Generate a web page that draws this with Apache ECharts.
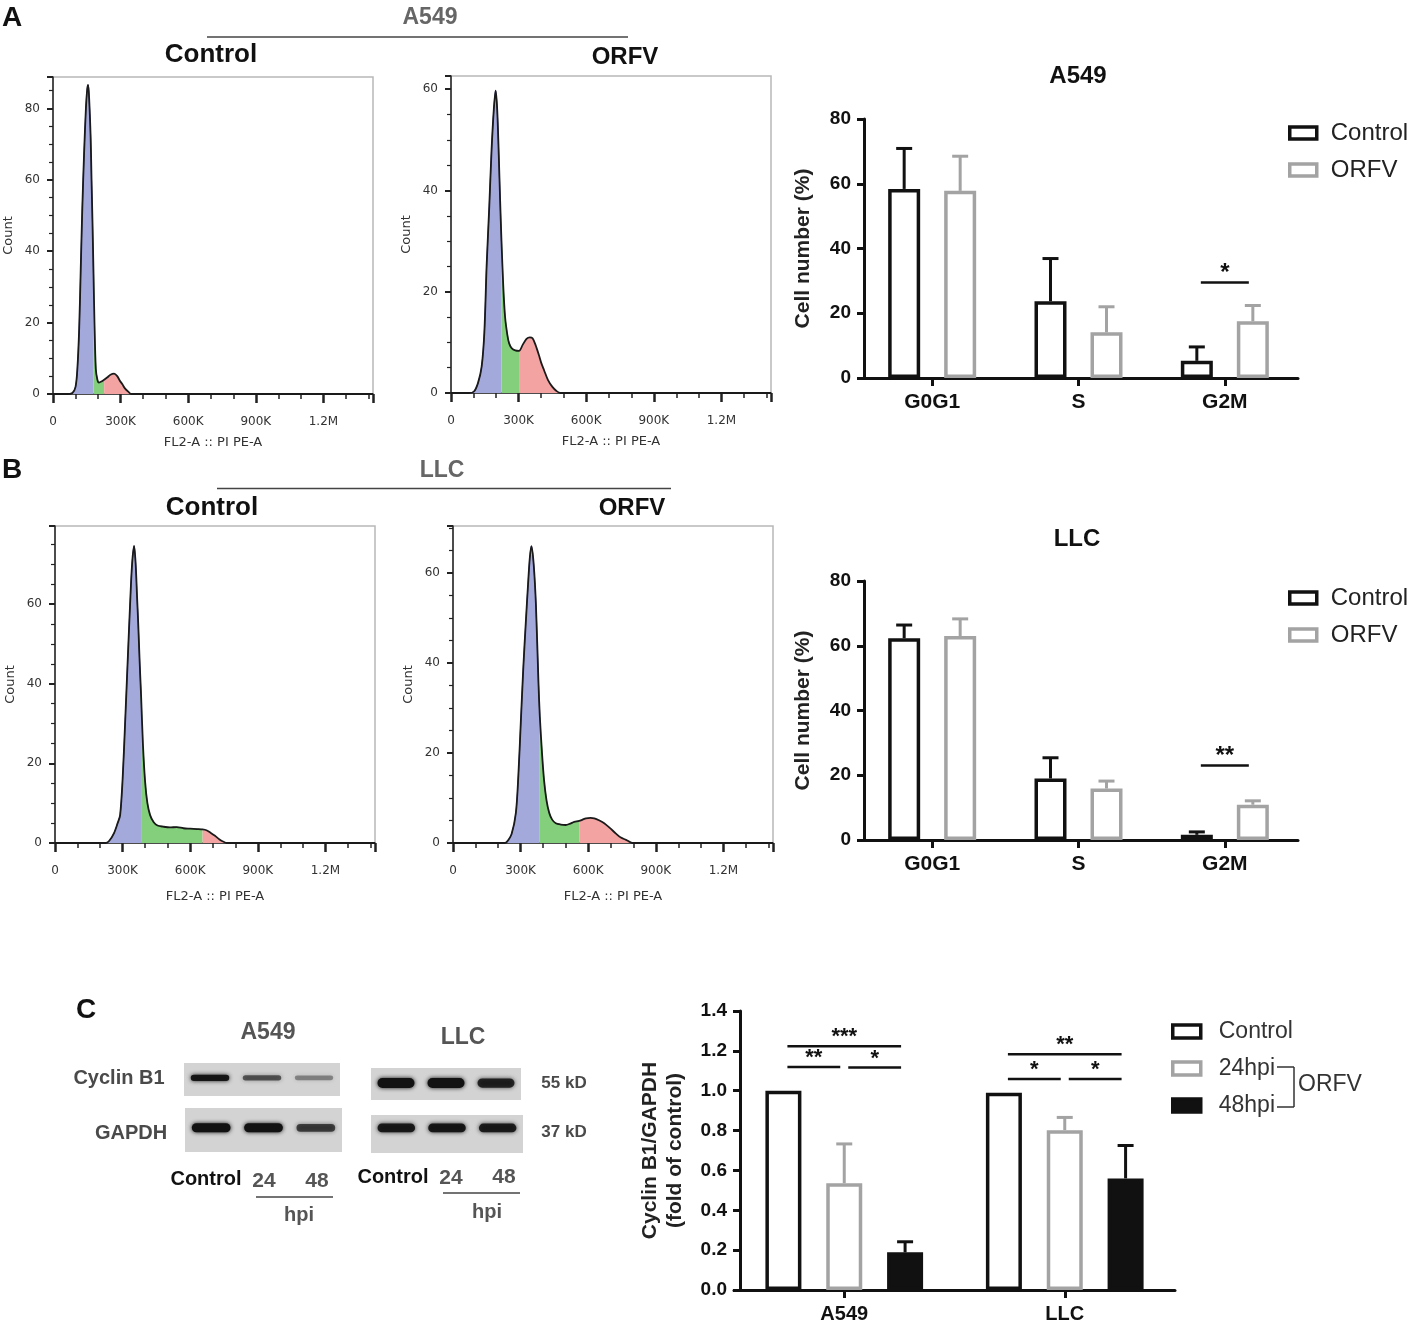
<!DOCTYPE html>
<html>
<head>
<meta charset="utf-8">
<title>ORFV cell cycle</title>
<script src="https://cdn.jsdelivr.net/npm/echarts@6/dist/echarts.min.js"></script>
<style>
  html, body { margin: 0; padding: 0; background: #fff; }
  #chart { width: 1408px; height: 1326px; }
</style>
</head>
<body>
<div id="chart"></div>
<script>
// ---------- data ----------
// flow cytometry histograms, x in K (FL2-A), y = count
var histA549Ctrl = [[0,0],[60,0],[86,0.3],[100,2],[108,6.9],[116,18],[123,34.8],[130,52],[138,67.5],[146,80],[152,85.5],[156,86.6],[161,82],[167,72],[171,60],[175,48.8],[180,33],[184,20],[190,7],[197,4],[204,3.2],[215,3.5],[227,4],[240,4.6],[255,5.4],[271,5.7],[285,5],[296,3.8],[308,2.7],[320,1.5],[335,0.6],[348,0],[1420,0]];
var histA549Orfv = [[0,0],[80,0],[102,0.3],[120,2],[136,5.2],[148,12],[158,25],[170,37],[180,48],[190,56],[198,59.7],[205,56],[212,47],[218,38],[224,30],[232,21],[240,15],[250,11.5],[258,9.8],[270,8.8],[285,8.4],[302,8.3],[318,9.5],[335,10.7],[350,11],[362,10.8],[375,9.5],[390,7.5],[400,6],[413,4.5],[430,2.6],[450,1.2],[468,0.4],[485,0],[1420,0]];
var histLlcCtrl = [[0,0],[225,0],[240,0.5],[262,2.5],[278,5],[289,7],[300,16],[311,30],[322,45],[333,59.7],[342,70],[351,74.6],[358,70],[364,62],[369,55.5],[376,45],[382,37],[390,25],[400,15.3],[410,10],[422,7],[438,5.2],[455,4.4],[480,4.1],[510,3.9],[540,4],[570,3.7],[600,3.6],[630,3.5],[655,3.4],[672,3.2],[690,2.6],[710,1.8],[730,0.9],[748,0.3],[762,0],[1420,0]];
var histLlcOrfv = [[0,0],[230,0],[240,0.3],[260,2],[279,6.7],[290,15],[301,27],[312,39],[323,49],[333,57.5],[341,63.5],[348,66],[358,62],[368,53],[379,36],[385,28.4],[395,20],[404,14],[415,9.5],[427,6.7],[440,5.2],[456,4.4],[478,4.1],[500,4],[520,4.3],[538,4.7],[560,4.9],[575,5.2],[590,5.5],[610,5.6],[627,5.5],[650,5],[671,4.4],[697,3.3],[723,2.1],[745,1.2],[768,0.7],[782,0.3],[795,0],[1420,0]];
// phase gates (K): end of G0/G1, end of S
var gatesA549Ctrl = [180, 227];
var gatesA549Orfv = [224, 302];
var gatesLlcCtrl = [382, 655];
var gatesLlcOrfv = [385, 560];
var histXTicks = ['0', '300K', '600K', '900K', '1.2M'];

// cell cycle distribution (%)
var phases = ['G0G1', 'S', 'G2M'];
var a549Ctrl = [58.4, 23.7, 5.3];
var a549CtrlErr = [12.5, 13.2, 4.3];
var a549Orfv = [57.8, 14.1, 17.5];
var a549OrfvErr = [10.7, 7.9, 4.9];
var llcCtrl = [62.3, 19.0, 1.6];
var llcCtrlErr = [4.1, 6.4, 0.9];
var llcOrfv = [63.0, 15.9, 10.9];
var llcOrfvErr = [5.3, 2.3, 1.2];
var sigA549 = [{cat: 2, from: 0, to: 1, y: 29.5, text: '*'}];
var sigLlc = [{cat: 2, from: 0, to: 1, y: 23.0, text: '**'}];

// Cyclin B1 / GAPDH (fold of control)
var cells = ['A549', 'LLC'];
var cycCtrl = [1.0, 0.99];
var cycCtrlErr = [0, 0];
var cyc24 = [0.536, 0.802];
var cyc24Err = [0.197, 0.064];
var cyc48 = [0.189, 0.56];
var cyc48Err = [0.053, 0.165];
var sigCyc = [
    {cat: 0, from: 0, to: 2, y: 1.223, text: '***'},
    {cat: 0, from: 0, to: 1, y: 1.119, text: '**'},
    {cat: 0, from: 1, to: 2, y: 1.116, text: '*'},
    {cat: 1, from: 0, to: 2, y: 1.183, text: '**'},
    {cat: 1, from: 0, to: 1, y: 1.059, text: '*'},
    {cat: 1, from: 1, to: 2, y: 1.059, text: '*'}
];

// western blot band levels per lane (Control, 24, 48 hpi)
var lanes = ['Control', '24', '48'];
var blotA549Cyclin = [0.95, 0.6, 0.38];
var blotA549Gapdh = [1.0, 1.0, 0.7];
var blotLlcCyclin = [1.0, 1.0, 0.85];
var blotLlcGapdh = [0.92, 0.95, 0.9];

// ---------- helpers ----------
var ARIAL = '"Liberation Sans", Arial, sans-serif';
var DEJA = '"DejaVu Sans", sans-serif';
var BLACK = '#111';
var GREY = '#a3a3a3';

function histGrid(left, top) {
    return {left: left, top: top, width: 320, height: 317, show: true,
        borderColor: '#b8b8b8', borderWidth: 1.5, backgroundColor: 'transparent'};
}

function histX(gi, nameGap) {
    return {
        gridIndex: gi, type: 'value', min: 0, max: 1420, interval: 300,
        axisLine: {show: true, onZero: false, lineStyle: {color: '#222', width: 1.5}},
        axisTick: {show: true, length: 9, lineStyle: {color: '#222', width: 2.5}},
        minorTick: {show: true, splitNumber: 3, length: 5, lineStyle: {color: '#222', width: 1.5}},
        splitLine: {show: false},
        axisLabel: {margin: 22, fontSize: 12, color: '#333', fontFamily: DEJA, showMaxLabel: false,
            formatter: function (v) { return histXTicks[Math.round(v / 300)] || ''; }},
        name: 'FL2-A :: PI PE-A', nameLocation: 'middle', nameGap: nameGap,
        nameTextStyle: {fontSize: 13, color: '#333', fontFamily: DEJA}
    };
}

function histY(gi, yMax) {
    return {
        gridIndex: gi, type: 'value', min: 0, max: yMax, interval: 20, offset: 3,
        axisLine: {show: true, lineStyle: {color: '#222', width: 1.5}},
        axisTick: {show: true, length: 6, lineStyle: {color: '#222', width: 2}},
        minorTick: {show: true, splitNumber: 4, length: 4, lineStyle: {color: '#222', width: 1.2}},
        splitLine: {show: false},
        axisLabel: {margin: 10, fontSize: 12, color: '#333', fontFamily: DEJA, showMaxLabel: false},
        name: 'Count', nameLocation: 'middle', nameGap: 35,
        nameTextStyle: {fontSize: 13, color: '#333', fontFamily: DEJA}
    };
}

function histSeries(gi, pts, gates) {
    var base = {type: 'line', xAxisIndex: gi, yAxisIndex: gi, symbol: 'none', smooth: 0.3, silent: true};
    var blue = pts.filter(function (p) { return p[0] <= gates[0]; });
    var green = pts.filter(function (p) { return p[0] >= gates[0] && p[0] <= gates[1]; });
    var red = pts.filter(function (p) { return p[0] >= gates[1]; });
    return [
        Object.assign({}, base, {data: blue, lineStyle: {color: '#39409c', width: 1},
            areaStyle: {color: '#a4a9dc', opacity: 1}}),
        Object.assign({}, base, {data: green, lineStyle: {color: '#47c43d', width: 1},
            areaStyle: {color: '#84cf7c', opacity: 1}}),
        Object.assign({}, base, {data: red, lineStyle: {width: 0},
            areaStyle: {color: '#f4a3a3', opacity: 1}}),
        Object.assign({}, base, {data: pts, lineStyle: {color: '#1a1a1a', width: 1.8}, z: 4})
    ];
}

function barX(gi, cats, fontSize) {
    return {
        gridIndex: gi, type: 'category', data: cats,
        axisLine: {show: true, lineStyle: {color: BLACK, width: 3}},
        axisTick: {show: true, alignWithLabel: true, length: 8, lineStyle: {color: BLACK, width: 3}},
        axisLabel: {margin: 14, fontSize: fontSize, fontWeight: 'bold', color: BLACK, fontFamily: ARIAL}
    };
}

function barY(gi, max, interval, name, nameGap, digits, offset) {
    return {
        gridIndex: gi, type: 'value', min: 0, max: max, interval: interval, offset: offset,
        axisLine: {show: true, lineStyle: {color: BLACK, width: 3}},
        axisTick: {show: true, length: 7, lineStyle: {color: BLACK, width: 3}},
        splitLine: {show: false},
        axisLabel: {margin: 13, fontSize: 19, fontWeight: 'bold', color: BLACK, fontFamily: ARIAL,
            formatter: function (v) { return v.toFixed(digits); }},
        name: name, nameLocation: 'middle', nameGap: nameGap,
        nameTextStyle: {fontSize: 21, fontWeight: 'bold', color: '#222', fontFamily: ARIAL, lineHeight: 25}
    };
}

// horizontal offset of bar i (of n) from the category centre
function barOffset(i, n, barW, gapRatio) {
    return (i - (n - 1) / 2) * barW * (1 + gapRatio);
}

function bar(gi, name, values, barW, gapRatio, fill, stroke) {
    return {type: 'bar', name: name, xAxisIndex: gi, yAxisIndex: gi, data: values,
        barWidth: barW, barGap: (gapRatio * 100) + '%', silent: true,
        itemStyle: {color: fill, borderColor: stroke, borderWidth: 3.5}};
}

function errBars(gi, means, errs, idx, n, barW, gapRatio, color) {
    var off = barOffset(idx, n, barW, gapRatio);
    return {type: 'custom', xAxisIndex: gi, yAxisIndex: gi, silent: true, z: 3,
        data: means.map(function (m, i) { return [i, m + errs[i]]; }),
        renderItem: function (params, api) {
            var i = params.dataIndex;
            if (!errs[i]) { return; }
            var p0 = api.coord([i, means[i]]);
            var p1 = api.coord([i, means[i] + errs[i]]);
            var x = p0[0] + off;
            var st = {stroke: color, lineWidth: 3};
            return {type: 'group', children: [
                {type: 'line', shape: {x1: x, y1: p0[1], x2: x, y2: p1[1]}, style: st},
                {type: 'line', shape: {x1: x - 8, y1: p1[1], x2: x + 8, y2: p1[1]}, style: st}
            ]};
        }};
}

function sigMarks(gi, list, n, barW, gapRatio, fontSize) {
    return {type: 'custom', xAxisIndex: gi, yAxisIndex: gi, silent: true, z: 5,
        data: list.map(function (s) { return [s.cat, s.y]; }),
        renderItem: function (params, api) {
            var s = list[params.dataIndex];
            var c = api.coord([s.cat, s.y]);
            var x1 = c[0] + barOffset(s.from, n, barW, gapRatio) + 4;
            var x2 = c[0] + barOffset(s.to, n, barW, gapRatio) - 4;
            return {type: 'group', children: [
                {type: 'line', shape: {x1: x1, y1: c[1], x2: x2, y2: c[1]},
                    style: {stroke: BLACK, lineWidth: 2.5}},
                {type: 'text', style: {text: s.text, x: (x1 + x2) / 2, y: c[1] - 9,
                    align: 'center', textAlign: 'center', verticalAlign: 'middle', textVerticalAlign: 'middle',
                    font: 'bold ' + fontSize + 'px ' + ARIAL, fill: BLACK}}
            ]};
        }};
}

function blotGrid(left, top, width, height) {
    return {left: left, top: top, width: width, height: height, show: false};
}

// bandY: band centre as a fraction of strip height from the bottom
function blot(gi, levels, bandH, bandY) {
    return {type: 'custom', xAxisIndex: gi, yAxisIndex: gi, silent: true,
        data: levels.map(function (v, i) { return [i, bandY, v]; }),
        renderItem: function (params, api) {
            var lv = api.value(2);
            var c = api.coord([api.value(0), api.value(1)]);
            var laneW = api.size([1, 0])[0];
            var cs = params.coordSys;
            var h = bandH * (0.55 + 0.45 * lv);
            var w = laneW * 0.74;
            var col = 'rgba(18,18,18,' + lv + ')';
            var kids = [];
            if (params.dataIndex === 0) {
                kids.push({type: 'rect', shape: {x: cs.x, y: cs.y, width: cs.width, height: cs.height},
                    style: {fill: '#d3d3d3'}});
            }
            kids.push({type: 'rect', shape: {x: c[0] - w / 2, y: c[1] - h / 2, width: w, height: h, r: h / 2},
                style: {fill: col, shadowBlur: 4, shadowColor: col}});
            return {type: 'group', children: kids};
        }};
}

function txt(x, y, s, font, color, align) {
    return {type: 'text', x: x, y: y, silent: true, style: {text: s, font: font, fill: color || BLACK,
        align: align || 'center', textAlign: align || 'center', verticalAlign: 'middle', textVerticalAlign: 'middle'}};
}

function ln(x1, y1, x2, y2, color, w) {
    return {type: 'line', silent: true, shape: {x1: x1, y1: y1, x2: x2, y2: y2},
        style: {stroke: color, lineWidth: w}};
}

// ---------- chart ----------
var chart = echarts.init(document.getElementById('chart'));

var AB_W = 32, AB_GAP = 0.75;   // panels A/B bars
var C_W = 36, C_GAP = 0.69;     // panel C bars

var hiddenX = function (gi) { return {gridIndex: gi, type: 'category', data: lanes, show: false}; };
var hiddenY = function (gi) { return {gridIndex: gi, type: 'value', min: 0, max: 1, show: false}; };

var series = [].concat(
    histSeries(0, histA549Ctrl, gatesA549Ctrl),
    histSeries(1, histA549Orfv, gatesA549Orfv),
    histSeries(2, histLlcCtrl, gatesLlcCtrl),
    histSeries(3, histLlcOrfv, gatesLlcOrfv),
    [
        bar(4, 'Control', a549Ctrl, AB_W, AB_GAP, '#fff', BLACK),
        bar(4, 'ORFV', a549Orfv, AB_W, AB_GAP, '#fff', GREY),
        errBars(4, a549Ctrl, a549CtrlErr, 0, 2, AB_W, AB_GAP, BLACK),
        errBars(4, a549Orfv, a549OrfvErr, 1, 2, AB_W, AB_GAP, GREY),
        sigMarks(4, sigA549, 2, AB_W, AB_GAP, 24),

        bar(5, 'Control', llcCtrl, AB_W, AB_GAP, '#fff', BLACK),
        bar(5, 'ORFV', llcOrfv, AB_W, AB_GAP, '#fff', GREY),
        errBars(5, llcCtrl, llcCtrlErr, 0, 2, AB_W, AB_GAP, BLACK),
        errBars(5, llcOrfv, llcOrfvErr, 1, 2, AB_W, AB_GAP, GREY),
        sigMarks(5, sigLlc, 2, AB_W, AB_GAP, 24),

        bar(6, 'Control', cycCtrl, C_W, C_GAP, '#fff', BLACK),
        bar(6, '24hpi', cyc24, C_W, C_GAP, '#fff', GREY),
        bar(6, '48hpi', cyc48, C_W, C_GAP, BLACK, BLACK),
        errBars(6, cycCtrl, cycCtrlErr, 0, 3, C_W, C_GAP, BLACK),
        errBars(6, cyc24, cyc24Err, 1, 3, C_W, C_GAP, GREY),
        errBars(6, cyc48, cyc48Err, 2, 3, C_W, C_GAP, BLACK),
        sigMarks(6, sigCyc, 3, C_W, C_GAP, 22),

        blot(7, blotA549Cyclin, 6.5, 0.55),
        blot(8, blotA549Gapdh, 9, 0.55),
        blot(9, blotLlcCyclin, 10, 0.53),
        blot(10, blotLlcGapdh, 9, 0.66)
    ]
);

var legendText = {fontSize: 24, color: '#222', fontFamily: ARIAL, padding: [0, 0, 0, 9]};

var option = {
    animation: false,
    backgroundColor: '#fff',
    grid: [
        histGrid(53, 77),
        histGrid(451, 76),
        histGrid(55, 526),
        histGrid(453, 526),
        {left: 859, top: 119, width: 439, height: 259},
        {left: 859, top: 581, width: 439, height: 259},
        {left: 734, top: 1011, width: 441, height: 279},
        blotGrid(184, 1063, 156, 33),
        blotGrid(185, 1108, 157, 44),
        blotGrid(371, 1068, 150, 32),
        blotGrid(371, 1115, 152, 38)
    ],
    xAxis: [
        histX(0, 42), histX(1, 42), histX(2, 47), histX(3, 47),
        barX(4, phases, 21), barX(5, phases, 21), barX(6, cells, 20),
        hiddenX(7), hiddenX(8), hiddenX(9), hiddenX(10)
    ],
    yAxis: [
        histY(0, 88.8), histY(1, 62.6), histY(2, 79.6), histY(3, 70.5),
        barY(4, 80, 20, 'Cell number (%)', 48, 0, -5),
        barY(5, 80, 20, 'Cell number (%)', 48, 0, -5),
        barY(6, 1.4, 0.2, 'Cyclin B1/GAPDH\n(fold of control)', 52, 1, -6),
        hiddenY(7), hiddenY(8), hiddenY(9), hiddenY(10)
    ],
    legend: [
        {left: 1288, top: 121, padding: 0, orient: 'vertical', icon: 'rect', itemWidth: 27, itemHeight: 12, itemGap: 13,
            selectedMode: false, textStyle: legendText,
            data: [{name: 'Control', itemStyle: {color: '#fff', borderColor: BLACK, borderWidth: 3.5}},
                   {name: 'ORFV', itemStyle: {color: '#fff', borderColor: GREY, borderWidth: 3.5}}]},
        {left: 1288, top: 586, padding: 0, orient: 'vertical', icon: 'rect', itemWidth: 27, itemHeight: 12, itemGap: 13,
            selectedMode: false, textStyle: legendText,
            data: [{name: 'Control', itemStyle: {color: '#fff', borderColor: BLACK, borderWidth: 3.5}},
                   {name: 'ORFV', itemStyle: {color: '#fff', borderColor: GREY, borderWidth: 3.5}}]},
        {left: 1171, top: 1020, padding: 0, orient: 'vertical', icon: 'rect', itemWidth: 28, itemHeight: 13, itemGap: 14,
            selectedMode: false, textStyle: {fontSize: 23, color: '#333', fontFamily: ARIAL, padding: [0, 0, 0, 13]},
            data: [{name: 'Control', itemStyle: {color: '#fff', borderColor: BLACK, borderWidth: 3.5}},
                   {name: '24hpi', itemStyle: {color: '#fff', borderColor: GREY, borderWidth: 3.5}},
                   {name: '48hpi', itemStyle: {color: BLACK, borderColor: BLACK, borderWidth: 3.5}}]}
    ],
    graphic: [
        // panel A header
        txt(12, 18, 'A', 'bold 28px ' + ARIAL, BLACK),
        txt(430, 18, 'A549', 'bold 23px ' + ARIAL, '#666'),
        ln(207, 37, 628, 37, '#444', 1.5),
        txt(211, 55, 'Control', 'bold 26px ' + ARIAL, BLACK),
        txt(625, 57, 'ORFV', 'bold 24px ' + ARIAL, BLACK),
        txt(1078, 76, 'A549', 'bold 24px ' + ARIAL, BLACK),
        // panel B header
        txt(12, 470, 'B', 'bold 28px ' + ARIAL, BLACK),
        txt(442, 471, 'LLC', 'bold 23px ' + ARIAL, '#666'),
        ln(217, 488.5, 671, 488.5, '#444', 1.5),
        txt(212, 508, 'Control', 'bold 26px ' + ARIAL, BLACK),
        txt(632, 508, 'ORFV', 'bold 24px ' + ARIAL, BLACK),
        txt(1077, 539, 'LLC', 'bold 24px ' + ARIAL, BLACK),
        // panel C blots
        txt(86, 1010, 'C', 'bold 28px ' + ARIAL, BLACK),
        txt(268, 1033, 'A549', 'bold 23px ' + ARIAL, '#555'),
        txt(463, 1038, 'LLC', 'bold 23px ' + ARIAL, '#555'),
        txt(119, 1078, 'Cyclin B1', 'bold 20px ' + ARIAL, '#4a4a4a'),
        txt(131, 1133, 'GAPDH', 'bold 20px ' + ARIAL, '#4a4a4a'),
        txt(564, 1083, '55 kD', 'bold 17px ' + ARIAL, '#4a4a4a'),
        txt(564, 1132, '37 kD', 'bold 17px ' + ARIAL, '#4a4a4a'),
        txt(206, 1179, 'Control', 'bold 20px ' + ARIAL, BLACK),
        txt(264, 1181, '24', 'bold 21px ' + ARIAL, '#555'),
        txt(317, 1181, '48', 'bold 21px ' + ARIAL, '#555'),
        ln(256, 1197, 333, 1197, '#444', 1.5),
        txt(299, 1215, 'hpi', 'bold 20px ' + ARIAL, '#555'),
        txt(393, 1177, 'Control', 'bold 20px ' + ARIAL, BLACK),
        txt(451, 1178, '24', 'bold 21px ' + ARIAL, '#555'),
        txt(504, 1177, '48', 'bold 21px ' + ARIAL, '#555'),
        ln(443, 1193, 520, 1193, '#444', 1.5),
        txt(487, 1212, 'hpi', 'bold 20px ' + ARIAL, '#555'),
        // ORFV bracket in panel C legend
        ln(1277, 1067, 1294, 1067, '#333', 1.5),
        ln(1294, 1067, 1294, 1107, '#333', 1.5),
        ln(1294, 1107, 1277, 1107, '#333', 1.5),
        txt(1298, 1085, 'ORFV', '23px ' + ARIAL, '#333', 'left')
    ],
    series: series
};

chart.setOption(option);
</script>
</body>
</html>
